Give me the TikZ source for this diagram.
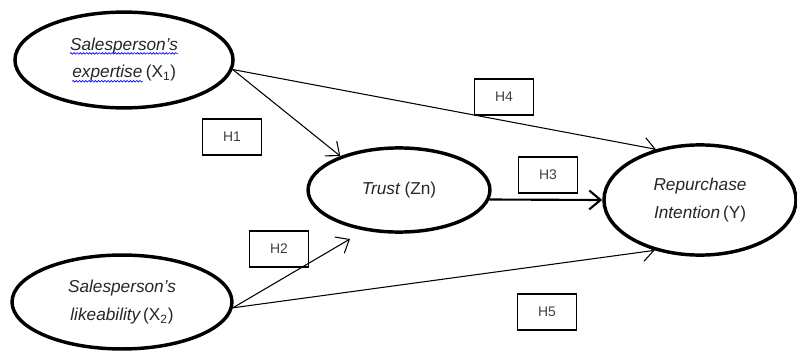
\documentclass[tikz,border=0pt]{standalone}
\usepackage{fontspec}
\setmainfont{Liberation Sans}
\usetikzlibrary{shapes.geometric,arrows.meta,decorations.pathmorphing}

\newcommand{\spellwave}[1]{\tikz[baseline=(w.base)]{\node[shape=rectangle,inner sep=0pt,
    minimum width=0pt,minimum height=0pt,draw=none,align=left] (w) {#1};
  \draw[blue,line width=0.5pt,decorate,decoration={snake,amplitude=0.6pt,segment length=2.4pt}]
  ([yshift=-2.5pt]w.base west) -- ([yshift=-2.5pt]w.base east);}}

\begin{document}
\begin{tikzpicture}[x=0.0265cm,y=-0.0265cm,
  construct/.style={ellipse,draw,line width=2.6pt,inner sep=0pt,align=center,
    font=\fontsize{13}{21}\selectfont,text=black!85},
  hyp/.style={draw,line width=0.9pt,minimum width=1.58cm,minimum height=0.95cm,
    font=\fontsize{10.5}{12}\selectfont,text=black!75},
  link/.style={line width=0.8pt,-{Straight Barb[length=3mm,width=5mm]}}]
\useasboundingbox (0,0) rectangle (797,353);

\node[construct,minimum width=5.78cm,minimum height=2.54cm] (expert) at (124,60)
  {\spellwave{\itshape Salesperson’s}\\\spellwave{\itshape expertise}\,(X\textsubscript{1})};
\node[construct,minimum width=5.83cm,minimum height=2.49cm] (like) at (122,302)
  {\itshape Salesperson’s\\\itshape likeability\,\upshape(X\textsubscript{2})};
\node[construct,minimum width=4.82cm,minimum height=2.23cm] (trust) at (399,190)
  {\itshape Trust \upshape(Zn)};
\node[construct,minimum width=5.09cm,minimum height=2.92cm] (rep) at (700,200)
  {\itshape Repurchase\\\itshape Intention\,\upshape(Y)};

\node[hyp] (h1) at (232,137) {H1};
\node[hyp] (h2) at (279,249) {H2};
\node[hyp] (h3) at (548,175) {H3};
\node[hyp] (h4) at (504,97) {H4};
\node[hyp] (h5) at (547,312) {H5};

\coordinate (h2tip) at (350,239);

\draw[link] (expert.-5) -- (trust.150);
\draw[link] (expert.-5) -- (rep.131);
\draw[link] (like.-3) -- (h2tip);
\draw[link] (like.-3) -- (rep.228);
\draw[link,line width=1.6pt] (trust.-6.5) -- (rep.west);
\end{tikzpicture}
\end{document}
